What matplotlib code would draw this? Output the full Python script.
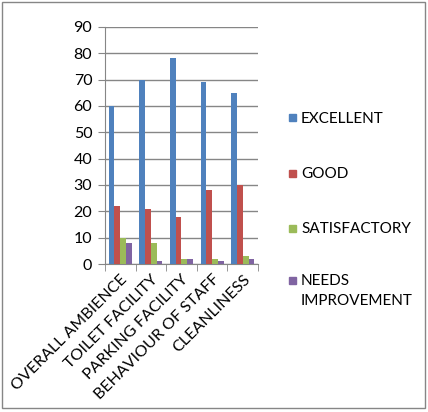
import numpy as np
import matplotlib.pyplot as plt
from matplotlib.patches import Rectangle

plt.rcParams['font.family'] = ['Lato', 'DejaVu Sans']

categories = ['OVERALL AMBIENCE', 'TOILET FACILITY', 'PARKING FACILITY',
              'BEHAVIOUR OF STAFF', 'CLEANLINESS']
series_names = ['EXCELLENT', 'GOOD', 'SATISFACTORY', 'NEEDS\nIMPROVEMENT']
excellent = [60, 70, 78, 69, 65]
good = [22, 21, 18, 28, 30]
satisfactory = [10, 8, 2, 2, 3]
needs_improvement = [8, 1, 2, 1, 2]
colors = ['#4F81BD', '#C0504D', '#9BBB59', '#8064A2']

W, H = 428, 412
fig = plt.figure(figsize=(W / 100, H / 100), dpi=100)
ax = fig.add_axes([0.245, 0.359, 0.358, 0.576])

x = np.arange(len(categories))
w = 0.1875
for i, vals in enumerate([excellent, good, satisfactory, needs_improvement]):
    ax.bar(x + (i - 1.5) * w, vals, w, color=colors[i], zorder=3)

ax.set_xlim(-0.5, len(categories) - 0.5)
ax.set_ylim(0, 90)
ax.set_yticks(range(0, 91, 10))
ax.yaxis.grid(True, color='#868686', linewidth=1, zorder=0)
ax.set_xticks(x)
ax.set_xticklabels(categories, rotation=45, ha='right', va='top',
                   rotation_mode='anchor', fontsize=11.5)
ax.tick_params(axis='x', length=0, pad=6)
ax.set_xticks(np.arange(-0.5, len(categories)), minor=True)
ax.tick_params(axis='x', which='minor', length=5, color='#868686')
ax.tick_params(axis='y', labelsize=11.5, length=5, color='#868686', pad=4)
for s in ['top', 'right']:
    ax.spines[s].set_visible(False)
for s in ['left', 'bottom']:
    ax.spines[s].set_color('#868686')

# legend drawn by hand (Excel style: marker beside the first line)
leg_y = [118, 173, 228, 280]
for name, c, yy in zip(series_names, colors, leg_y):
    fig.patches.append(Rectangle((289 / W, 1 - (yy + 3.5) / H), 7 / W, 7 / H,
                                 transform=fig.transFigure, color=c))
    fig.text(301 / W, 1 - (yy - 6) / H, name, fontsize=11, va='top', ha='left',
             linespacing=1.55)

fig.patches.append(Rectangle((0.004, 0.01), 0.99, 0.985, transform=fig.transFigure,
                             fill=False, edgecolor='#868686', linewidth=1))

plt.savefig('out.png', dpi=100)
